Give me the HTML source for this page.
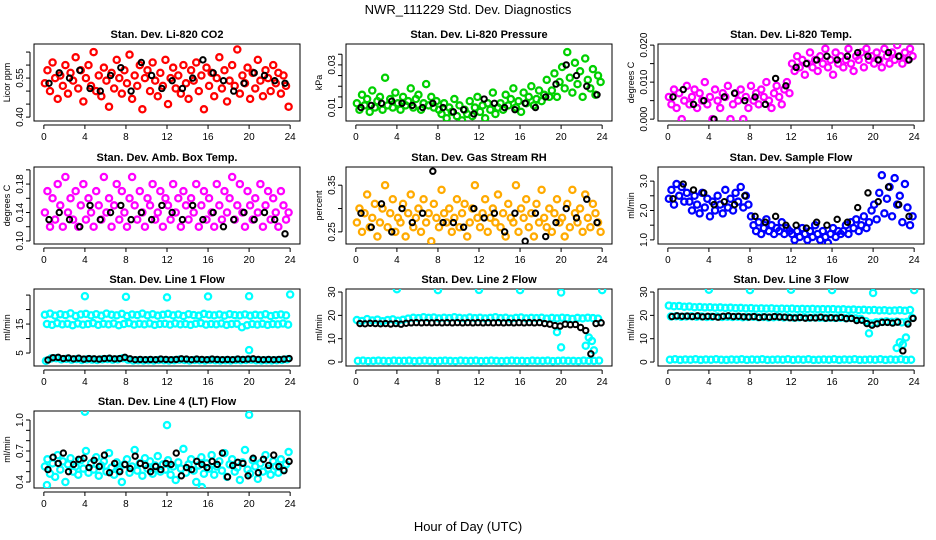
<!DOCTYPE html>
<html><head><meta charset="utf-8"><style>
html,body{margin:0;padding:0;background:#fff;}
svg{display:block;font-family:"Liberation Sans",Arial,sans-serif;}
</style></head><body>
<svg id="chart" width="936" height="540" viewBox="0 0 936 540">
<text x="468" y="14" text-anchor="middle" font-size="13">NWR_111229  Std. Dev. Diagnostics</text>
<text x="468" y="531" text-anchor="middle" font-size="13">Hour of Day (UTC)</text>
</svg>
<script>
// ---------- DATA ----------
const co2Red=[0.53,0.58,0.50,0.61,0.55,0.47,0.56,0.52,0.60,0.49,0.57,0.54,0.63,0.51,0.58,0.46,0.55,0.60,0.52,0.65,0.50,0.56,0.48,0.59,0.54,0.44,0.57,0.51,0.62,0.55,0.49,0.58,0.53,0.64,0.47,0.56,0.52,0.60,0.43,0.55,0.58,0.50,0.61,0.54,0.48,0.57,0.52,0.62,0.45,0.55,0.59,0.51,0.56,0.49,0.60,0.53,0.47,0.58,0.54,0.61,0.50,0.56,0.43,0.59,0.52,0.57,0.48,0.55,0.63,0.51,0.58,0.46,0.54,0.60,0.52,0.66,0.49,0.56,0.53,0.59,0.47,0.57,0.51,0.62,0.54,0.48,0.58,0.55,0.50,0.60,0.53,0.57,0.49,0.56,0.52,0.44];
const co2Black=[0.53,0.57,0.55,0.58,0.51,0.50,0.56,0.59,0.50,0.61,0.56,0.51,0.54,0.51,0.55,0.62,0.57,0.54,0.50,0.53,0.57,0.56,0.54,0.53];
const presGreen=[0.012,0.009,0.016,0.011,0.014,0.008,0.018,0.010,0.013,0.015,0.009,0.024,0.011,0.014,0.010,0.017,0.012,0.009,0.015,0.011,0.013,0.019,0.010,0.014,0.016,0.009,0.012,0.021,0.011,0.015,0.010,0.013,
0.009,0.007,0.012,0.005,0.010,0.008,0.014,0.006,0.011,0.004,0.009,0.007,0.013,0.006,0.010,0.015,0.008,0.011,0.005,0.012,0.009,0.017,0.007,0.010,
0.012,0.009,0.016,0.011,0.014,0.019,0.010,0.013,0.008,0.017,0.012,0.015,0.020,0.011,0.014,0.018,0.013,0.016,0.023,0.015,
0.018,0.026,0.015,0.022,0.029,0.019,0.036,0.024,0.017,0.031,0.021,0.027,0.015,0.033,0.023,0.019,0.028,0.016,0.025,0.022];
const presBlack=[0.010,0.011,0.012,0.013,0.012,0.011,0.010,0.012,0.010,0.008,0.009,0.007,0.014,0.012,0.010,0.009,0.012,0.010,0.015,0.021,0.030,0.025,0.020,0.016];
const tempMag=[0.006,0.004,0.008,0.003,0.007,0.000,0.005,0.009,0.004,0.006,0.008,0.003,0.007,0.005,0.010,0.004,0.006,0.000,0.008,0.005,0.003,0.007,0.006,0.009,0.000,0.004,0.007,0.005,0.008,0.000,0.006,0.003,0.009,0.005,0.007,0.004,0.008,0.006,0.010,0.005,0.003,0.007,0.009,0.006,0.004,0.008,0.010,0.007,
0.015,0.013,0.017,0.014,0.016,0.012,0.015,0.018,0.014,0.016,0.013,0.017,0.015,0.019,0.014,0.016,0.012,0.018,0.015,0.017,0.014,0.016,0.019,0.015,0.013,0.017,0.016,0.018,0.014,0.019,0.016,0.017,0.015,0.018,0.016,0.014,0.019,0.017,0.015,0.018,0.016,0.020,0.017,0.015,0.018,0.016,0.019,0.017];
const tempBlack=[0.006,0.008,0.004,0.005,0.000,0.006,0.007,0.005,0.006,0.004,0.011,0.009,0.014,0.015,0.016,0.017,0.016,0.017,0.018,0.017,0.016,0.018,0.017,0.016];
const boxMag=[0.14,0.17,0.12,0.16,0.13,0.18,0.15,0.12,0.19,0.14,0.16,0.13,0.17,0.12,0.15,0.18,0.13,0.16,0.14,0.12,0.17,0.15,0.13,0.19,0.14,0.16,0.12,0.15,0.18,0.13,0.17,0.14,0.12,0.16,0.19,0.15,0.13,0.17,0.14,0.12,0.16,0.15,0.18,0.13,0.14,0.17,0.12,0.16,0.15,0.13,0.18,0.14,0.16,0.12,0.17,0.15,0.13,0.16,0.14,0.18,0.12,0.15,0.17,0.13,0.16,0.14,0.12,0.18,0.15,0.13,0.17,0.14,0.16,0.19,0.13,0.15,0.18,0.14,0.12,0.17,0.15,0.13,0.16,0.14,0.18,0.12,0.15,0.17,0.13,0.16,0.14,0.12,0.17,0.15,0.13,0.14];
const boxBlack=[0.13,0.14,0.13,0.12,0.15,0.13,0.14,0.15,0.13,0.14,0.13,0.15,0.14,0.13,0.15,0.13,0.14,0.12,0.13,0.14,0.13,0.14,0.13,0.11];
const rhOrange=[0.27,0.30,0.25,0.29,0.33,0.26,0.28,0.31,0.24,0.27,0.30,0.35,0.26,0.29,0.32,0.25,0.28,0.27,0.31,0.24,0.29,0.33,0.26,0.28,0.30,0.25,0.32,0.27,0.29,0.23,0.31,0.28,0.26,0.34,0.29,0.27,0.30,0.25,0.28,0.32,0.26,0.29,0.31,0.24,0.27,0.30,0.35,0.28,0.26,0.29,0.32,0.25,0.28,0.30,0.27,0.33,0.26,0.29,0.24,0.31,0.28,0.27,0.35,0.25,0.30,0.28,0.32,0.26,0.29,0.24,0.31,0.27,0.34,0.28,0.26,0.30,0.25,0.29,0.32,0.27,0.28,0.24,0.31,0.26,0.34,0.29,0.27,0.30,0.25,0.33,0.28,0.26,0.31,0.29,0.27,0.25];
const rhBlack=[0.29,0.26,0.31,0.25,0.30,0.27,0.29,0.38,0.27,0.27,0.26,0.30,0.28,0.29,0.25,0.29,0.23,0.29,0.24,0.27,0.30,0.28,0.32,0.27];
const flowBlue=[2.4,2.7,2.2,2.9,2.5,2.8,2.3,2.6,
2.3,2.0,2.5,2.2,1.9,2.6,2.1,2.4,1.8,2.3,2.0,2.5,2.2,1.9,2.7,2.1,2.4,2.0,2.6,2.3,2.8,2.1,2.5,2.2,
1.8,1.5,1.3,1.6,1.2,1.4,1.7,1.3,1.5,1.2,1.4,1.3,1.6,1.2,1.4,1.3,
1.2,1.0,1.3,1.1,1.4,1.2,1.0,1.3,1.1,1.5,1.2,1.0,1.3,1.1,0.9,1.2,1.4,1.1,1.3,1.2,
1.3,1.5,1.2,1.6,1.4,1.7,1.3,1.5,1.8,1.4,1.6,2.0,
2.2,1.7,2.6,3.2,1.9,2.4,2.8,1.8,3.1,2.2,2.5,1.6,2.9,2.1,1.5,1.8];
const flowBlack=[2.4,2.9,2.7,2.6,2.2,2.3,2.2,2.5,1.8,1.6,1.8,1.5,1.5,1.4,1.6,1.5,1.7,1.6,2.1,2.6,2.3,2.8,2.2,1.8];
const l1Hi=[18.2,18.6,17.9,18.4,18.1,18.7,17.8,18.3,18.5,18.0,18.4,17.9,18.6,18.2,18.0,18.5,17.8,18.3,18.1,18.6,18.0,18.4,17.9,18.2,18.5,18.0,18.3,17.8,18.4,18.1,17.9,18.5,18.2,18.0,18.3,17.9,18.4,18.1,18.0,18.3,17.9,18.2,18.0,18.4,17.8,18.1,18.3,18.0];
const l1Lo=[15.0,14.7,15.3,14.9,15.1,14.6,15.2,14.8,15.0,15.3,14.7,15.1,14.9,15.2,14.6,15.0,15.3,14.8,15.1,14.9,15.2,14.7,15.0,15.1,14.8,15.2,14.9,15.0,14.7,15.1,15.3,14.8,15.0,14.9,15.2,14.7,15.0,15.1,13.9,14.6,15.0,14.8,15.1,14.7,15.0,14.9,15.2,14.8];
const l1Black=[2.6,3.4,3.5,3.1,3.3,3.0,3.2,2.9,3.1,3.0,2.9,3.1,3.2,3.0,3.1,3.5,3.0,2.7,2.8,2.7,2.8,2.7,2.9,2.8,2.7,2.8,3.0,2.9,2.7,2.9,2.8,2.7,2.9,2.8,2.7,2.8,2.7,2.9,2.8,2.9,3.0,2.8,2.7,2.8,2.7,2.8,2.9,3.1];
const l1OutX=[4,8,12,16,20,24,20];
const l1OutY=[24.6,24.4,24.2,24.5,24.6,25.2,6.0];
const l2Band=[18.0,17.6,18.4,17.8,18.2,17.5,18.0,18.3,17.7,18.1,18.6,19.0,18.8,19.2,18.9,19.1,18.7,19.0,18.8,19.2,18.9,18.7,19.1,18.8,19.0,18.7,18.9,19.2,18.8,19.0,18.6,18.9,19.1,18.7,18.9,18.8,19.0,18.6,18.9,18.7,19.0,18.8,18.5,18.9,18.7,19.0,18.8,18.6];
const l2Bottom=[0.5,0.6,0.4,0.5,0.6,0.5,0.4,0.6,0.5,0.5,0.6,0.4,0.5,0.6,0.5,0.4,0.5,0.6,0.5,0.4,0.6,0.5,0.5,0.6,0.4,0.5,0.6,0.5,0.4,0.5,0.6,0.5,0.5,0.4,0.6,0.5,0.5,0.6,0.4,0.5,0.6,0.5,0.5,0.4,0.6,0.5,0.5,0.6];
const l2Black=[16.5,16.4,16.6,16.5,16.4,16.5,16.3,16.5,16.2,16.6,16.8,16.9,16.8,16.9,16.8,16.9,16.8,16.9,16.8,16.9,16.8,16.9,16.8,16.9,16.8,16.9,16.8,16.9,16.8,16.9,16.8,16.9,16.8,16.9,16.8,16.9,16.5,16.2,15.6,15.4,16.2,16.0,16.1,14.8,13.5,3.5,16.5,16.8];
const l2OutX=[4,8,12,16,20,19.6,20,22.4,22.7,23,23.2,24];
const l2OutY=[31.2,30.8,30.9,30.8,29.8,12.8,6.3,7.0,10.5,9.0,5.0,30.8];
const l3Top=[24.2,23.9,24.0,23.7,23.8,23.5,23.6,23.4,23.5,23.3,23.4,23.2,23.3,23.1,23.2,23.0,23.1,22.9,23.0,22.9,23.0,22.8,22.9,22.8,22.9,22.7,22.8,22.7,22.8,22.6,22.7,22.6,22.7,22.5,22.6,22.4,22.5,22.3,22.4,22.2,22.3,22.1,22.2,22.0,22.1,22.2,22.0,22.3];
const l3Mid=[19.5,19.6,19.4,19.5,19.6,19.4,19.5,19.3,19.4,19.5,19.3,19.4,19.3,19.4,19.2,19.3,19.4,19.2,19.3,19.1,19.2,19.3,19.1,19.2,19.0,19.1,19.2,19.0,19.1,19.0,18.9,19.0,18.9,19.0,18.8,18.9,18.7,18.5,17.5,16.5,17.0,17.2,17.4,17.2,17.3,17.0,17.2,19.0];
const l3Bottom=[1.0,1.2,0.9,1.1,1.0,1.2,0.9,1.1,1.0,1.2,1.0,0.9,1.1,1.0,1.2,0.9,1.1,1.0,1.2,0.9,1.0,1.1,1.0,1.2,0.9,1.1,1.0,1.2,0.9,1.0,1.1,1.0,1.2,0.9,1.1,1.0,1.2,0.9,1.0,1.1,1.0,1.2,0.9,1.1,1.0,1.2,0.9,1.0];
const l3Black=[19.5,19.8,19.6,19.7,19.5,19.8,19.4,19.6,19.5,19.2,19.6,19.8,19.5,19.6,19.4,19.3,19.5,19.1,19.4,19.2,19.5,19.3,19.2,19.0,18.9,19.1,18.8,19.0,18.9,19.2,18.8,19.0,18.8,19.1,18.6,18.7,17.8,17.9,16.5,15.8,16.4,17.0,17.0,16.7,17.1,4.8,16.3,18.7];
const l3OutX=[4,8,12,16,20,19.6,22.3,22.6,22.9,23.2,24];
const l3OutY=[31.0,30.8,31.0,30.8,29.6,12.3,6.0,8.5,7.5,10.5,30.8];
const l4Cyan=[0.55,0.62,0.48,0.58,0.45,0.66,0.52,0.60,0.40,0.57,0.63,0.50,0.55,0.47,0.61,0.53,0.70,0.49,0.58,0.52,0.64,0.46,0.56,0.60,0.50,0.68,0.54,0.47,0.59,0.52,0.40,0.57,0.62,0.49,0.55,0.71,0.51,0.58,0.46,0.63,0.53,0.60,0.48,0.56,0.65,0.50,0.57,0.52,
0.61,0.47,0.55,0.42,0.59,0.53,0.72,0.49,0.57,0.62,0.51,0.40,0.56,0.64,0.48,0.58,0.53,0.66,0.47,0.55,0.60,0.51,0.68,0.45,0.57,0.62,0.50,0.54,0.42,0.59,0.71,0.52,0.48,0.61,0.55,0.43,0.58,0.50,0.66,0.53,0.47,0.60,0.55,0.49,0.62,0.52,0.57,0.69];
const l4OutX=[4,12,20,0.3,15.4];
const l4OutY=[1.08,0.95,1.05,0.37,0.35];
const l4Black=[0.52,0.64,0.58,0.68,0.50,0.57,0.62,0.63,0.54,0.61,0.55,0.66,0.49,0.58,0.50,0.57,0.53,0.65,0.58,0.56,0.50,0.55,0.52,0.58,0.57,0.68,0.46,0.54,0.52,0.60,0.57,0.54,0.60,0.57,0.68,0.45,0.56,0.59,0.58,0.46,0.63,0.49,0.62,0.56,0.66,0.55,0.51,0.60];

// ---------- LAYOUT ----------
const svg=document.getElementById('chart');
const NS='http://www.w3.org/2000/svg';
const COLX=[34,346,658], ROWY=[44,167,289,411], PW=266, PH=77;
function mk(tag,attrs,parent){const e=document.createElementNS(NS,tag);for(const k in attrs)e.setAttribute(k,attrs[k]);(parent||svg).appendChild(e);return e;}
const xHours=[0,4,8,12,16,20,24];

function panel(p){
  const L=COLX[p.col],T=ROWY[p.row];
  const g=mk('g',{});
  
  
  const xScale=h=>L+(h+0.96)/25.92*PW;
  const yScale=v=>T+PH*(p.top-v)/(p.top-p.bot);
  const clip='clip-'+p.id;
  const cp=mk('clipPath',{id:clip},g);mk('rect',{x:L,y:T,width:PW,height:PH},cp);
  const t=mk('text',{x:L+PW/2,y:T-6,'text-anchor':'middle','font-size':'11','font-weight':'bold'},g);
  t.textContent=p.title;
  
  
  const yl=mk('text',{x:L-24,y:T+PH/2,'text-anchor':'middle','font-size':'9',transform:`rotate(-90 ${L-24} ${T+PH/2})`},g);
  yl.textContent=p.ylab;
  
  
  const xa=mk('g',{},g);
  
  
  mk('line',{x1:xScale(0),x2:xScale(24),y1:T+PH+4,y2:T+PH+4,stroke:'#000','stroke-width':1},xa);
  xHours.forEach(h=>{
    mk('line',{x1:xScale(h),x2:xScale(h),y1:T+PH+4,y2:T+PH+8,stroke:'#000'},xa);
    const tx=mk('text',{x:xScale(h),y:T+PH+19,'text-anchor':'middle','font-size':'10'},xa);
    tx.textContent=h;
    
    
  });
  const ya=mk('g',{},g);
  
  
  mk('line',{x1:L-4,x2:L-4,y1:yScale(p.ticks[0]),y2:yScale(p.ticks[p.ticks.length-1]),stroke:'#000'},ya);
  p.ticks.forEach(v=>{mk('line',{x1:L-8,x2:L-4,y1:yScale(v),y2:yScale(v),stroke:'#000'},ya);});
  p.labels.forEach(v=>{
    const y=yScale(v);
    const tx=mk('text',{x:L-11,y:y,'text-anchor':'middle','font-size':'10',transform:`rotate(-90 ${L-11} ${y})`},ya);
    tx.textContent=v.toFixed(p.dec);
    
    
  });
  mk('rect',{x:L,y:T,width:PW,height:PH,fill:'none',stroke:'#000','stroke-width':1},g);
  const pts=mk('g',{'clip-path':`url(#${clip})`,fill:'none'},g);
  p.series.forEach(s=>{
    const black=s.color==='#000';
    const sg=mk('g',{stroke:s.color,'stroke-width':black?2:2.3},pts);
    
    
    s.vals.forEach((v,i)=>{
      const h=s.xs?s.xs[i]:(s.off||0)+i*24/s.vals.length;
      const c=mk('circle',{cx:xScale(h),cy:yScale(v),r:black?2.7:3.1},sg);
      
      
    });
  });
}
const CY='#00ffff';
const panels=[
 {id:'co2',col:0,row:0,title:'Stan. Dev. Li-820 CO2',ylab:'Licor ppm',top:0.681,bot:0.385,ticks:[0.40,0.45,0.50,0.55,0.60,0.65],labels:[0.40,0.55],dec:2,
  series:[{name:'red-points',color:'#ff0000',vals:co2Red,off:0.1},{name:'black-points',color:'#000',vals:co2Black,off:0.5}]},
 {id:'pressure',col:1,row:0,title:'Stan. Dev. Li-820 Pressure',ylab:'kPa',top:0.0398,bot:0.0037,ticks:[0.01,0.015,0.02,0.025,0.03,0.035],labels:[0.01,0.03],dec:2,
  series:[{name:'green-points',color:'#00d000',vals:presGreen,off:0.1},{name:'black-points',color:'#000',vals:presBlack,off:0.5}]},
 {id:'temp',col:2,row:0,title:'Stan. Dev. Li-820 Temp.',ylab:'degrees C',top:0.0203,bot:-0.0005,ticks:[0,0.005,0.01,0.015,0.02],labels:[0,0.01,0.02],dec:3,
  series:[{name:'magenta-points',color:'#ff00ff',vals:tempMag,off:0.1},{name:'black-points',color:'#000',vals:tempBlack,off:0.5}]},
 {id:'ambbox',col:0,row:1,title:'Stan. Dev. Amb. Box Temp.',ylab:'degrees C',top:0.204,bot:0.0957,ticks:[0.10,0.12,0.14,0.16,0.18,0.20],labels:[0.10,0.14,0.18],dec:2,
  series:[{name:'magenta-points',color:'#ff00ff',vals:boxMag,off:0.1},{name:'black-points',color:'#000',vals:boxBlack,off:0.5}]},
 {id:'rh',col:1,row:1,title:'Stan. Dev. Gas Stream RH',ylab:'percent',top:0.389,bot:0.224,ticks:[0.25,0.30,0.35],labels:[0.25,0.35],dec:2,
  series:[{name:'orange-points',color:'#ffaa00',vals:rhOrange,off:0.1},{name:'black-points',color:'#000',vals:rhBlack,off:0.5}]},
 {id:'sampleflow',col:2,row:1,title:'Stan. Dev. Sample Flow',ylab:'ml/min',top:3.48,bot:0.86,ticks:[1.0,1.5,2.0,2.5,3.0],labels:[1.0,2.0,3.0],dec:1,
  series:[{name:'blue-points',color:'#0000ff',vals:flowBlue,off:0.1},{name:'black-points',color:'#000',vals:flowBlack,off:0.5}]},
 {id:'line1',col:0,row:2,title:'Stan. Dev. Line 1 Flow',ylab:'ml/min',top:27.1,bot:0.52,ticks:[5,10,15,20,25],labels:[5,15],dec:0,
  series:[{name:'cyan-upper',color:CY,vals:l1Hi,off:0.1},{name:'cyan-lower',color:CY,vals:l1Lo,off:0.3},{name:'cyan-outliers',color:CY,vals:l1OutY,xs:l1OutX},{name:'cyan-bottom',color:CY,vals:l1Black.map(v=>v-0.3),off:0.2},{name:'black-points',color:'#000',vals:l1Black,off:0.4}]},
 {id:'line2',col:1,row:2,title:'Stan. Dev. Line 2 Flow',ylab:'ml/min',top:31.3,bot:-1.7,ticks:[0,10,20,30],labels:[0,10,20,30],dec:0,
  series:[{name:'cyan-band',color:CY,vals:l2Band,off:0.1},{name:'cyan-bottom',color:CY,vals:l2Bottom,off:0.2},{name:'cyan-outliers',color:CY,vals:l2OutY,xs:l2OutX},{name:'black-points',color:'#000',vals:l2Black,off:0.4}]},
 {id:'line3',col:2,row:2,title:'Stan. Dev. Line 3 Flow',ylab:'ml/min',top:31.3,bot:-1.7,ticks:[0,10,20,30],labels:[0,10,20,30],dec:0,
  series:[{name:'cyan-top',color:CY,vals:l3Top,off:0.1},{name:'cyan-mid',color:CY,vals:l3Mid,off:0.3},{name:'cyan-bottom',color:CY,vals:l3Bottom,off:0.2},{name:'cyan-outliers',color:CY,vals:l3OutY,xs:l3OutX},{name:'black-points',color:'#000',vals:l3Black,off:0.4}]},
 {id:'line4',col:0,row:3,title:'Stan. Dev. Line 4 (LT) Flow',ylab:'ml/min',top:1.087,bot:0.342,ticks:[0.4,0.5,0.6,0.7,0.8,0.9,1.0],labels:[0.4,0.7,1.0],dec:1,
  series:[{name:'cyan-points',color:CY,vals:l4Cyan,off:0.1},{name:'cyan-outliers',color:CY,vals:l4OutY,xs:l4OutX},{name:'black-points',color:'#000',vals:l4Black,off:0.4}]}
];
panels.forEach(panel);
</script>
</body></html>
